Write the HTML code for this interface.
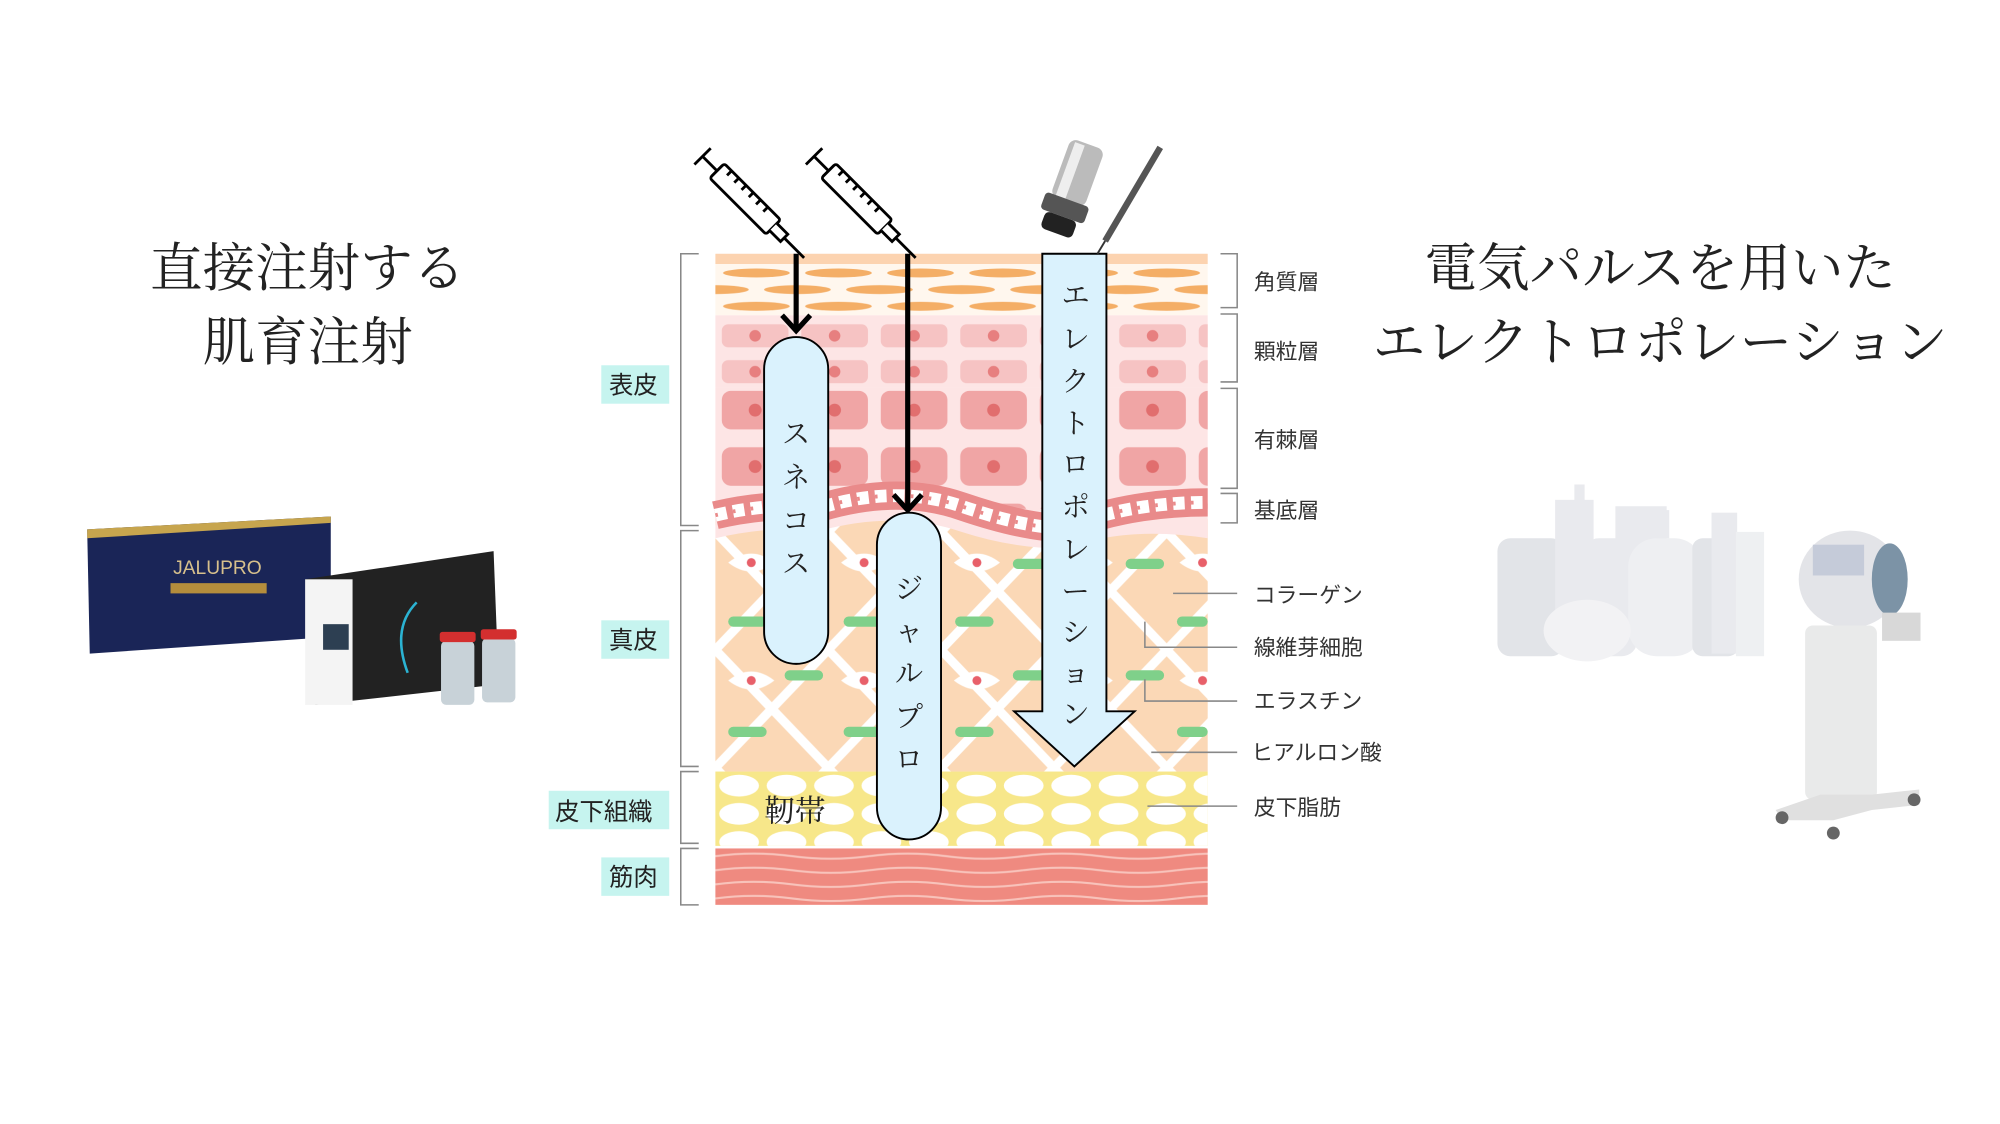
<!DOCTYPE html>
<html><head><meta charset="utf-8"><style>
html,body{margin:0;padding:0;background:#fff;width:2000px;height:1124px;overflow:hidden}
svg{display:block}
text{font-family:"Liberation Sans","Noto Sans CJK JP",sans-serif}
.ser{font-family:"Liberation Serif","Noto Serif CJK SC",serif}
</style></head><body>
<svg width="2000" height="1124" viewBox="0 0 1560 877" preserveAspectRatio="none" xmlns="http://www.w3.org/2000/svg">
<defs>
<pattern id="corn" x="558" y="206" width="64" height="26" patternUnits="userSpaceOnUse">
 <ellipse cx="32" cy="7" rx="26" ry="3.5" fill="#f4ae66"/>
 <ellipse cx="0" cy="20" rx="26" ry="3.5" fill="#f4ae66"/>
 <ellipse cx="64" cy="20" rx="26" ry="3.5" fill="#f4ae66"/>
</pattern>
<pattern id="gran" x="555" y="250" width="62" height="28" patternUnits="userSpaceOnUse">
 <rect x="8" y="3" width="52" height="18" rx="5" fill="#f6c3c3"/>
 <circle cx="34" cy="12" r="4.5" fill="#e77f7f"/>
</pattern>
<pattern id="spin" x="560" y="300" width="62" height="44" patternUnits="userSpaceOnUse">
 <rect x="3" y="5" width="52" height="30" rx="7" fill="#f0a5a5"/>
 <circle cx="29" cy="20" r="5" fill="#e16e6e"/>
</pattern>
<pattern id="derm" x="558" y="415" width="88" height="92" patternUnits="userSpaceOnUse">
 <rect width="88" height="92" fill="#fbd8b6"/>
 <path d="M0 0 L44 46 L88 0 M0 92 L44 46 L88 92" stroke="#fff" stroke-width="7" fill="none"/>
 <path d="M10 24 Q28 10 46 24 Q28 38 10 24Z" fill="#fff"/><circle cx="28" cy="24" r="3.5" fill="#e8606a"/>
</pattern>
<pattern id="fat" x="558" y="602" width="37" height="22" patternUnits="userSpaceOnUse">
 <ellipse cx="18.5" cy="11" rx="15.5" ry="8.5" fill="#fff"/>
</pattern>
<pattern id="musc" x="558" y="662" width="120" height="11" patternUnits="userSpaceOnUse">
 <rect width="120" height="11" fill="#ef8a80"/>
 <path d="M0 6 Q30 2 60 6 T120 6" stroke="#f8c3bb" stroke-width="1.6" fill="none"/>
</pattern>
</defs>

<g class="ser" font-size="41" fill="#222" text-anchor="middle">
<text class="ser" x="240" y="223">直接注射する</text>
<text class="ser" x="240" y="281">肌育注射</text>
<text class="ser" x="1295" y="223">電気パルスを用いた</text>
<text class="ser" x="1295" y="281">エレクトロポレーション</text>
</g>

<rect x="558" y="198" width="384" height="8" fill="#fcd3b0"/>
<rect x="558" y="206" width="384" height="40" fill="#fff7ee"/>
<rect x="558" y="206" width="384" height="40" fill="url(#corn)"/>
<rect x="558" y="246" width="384" height="56" fill="#fde5e5"/>
<rect x="558" y="246" width="384" height="56" fill="url(#gran)"/>
<rect x="558" y="302" width="384" height="100" fill="#fde5e5"/>
<rect x="558" y="302" width="384" height="95" fill="url(#spin)"/>
<rect x="558" y="405" width="384" height="197" fill="url(#derm)"/>
<g fill="#7fd08a">
<rect x="568" y="481" width="30" height="8" rx="4"/><rect x="658" y="481" width="30" height="8" rx="4"/>
<rect x="745" y="481" width="30" height="8" rx="4"/><rect x="790" y="436" width="30" height="8" rx="4"/>
<rect x="878" y="436" width="30" height="8" rx="4"/><rect x="918" y="481" width="24" height="8" rx="4"/>
<rect x="612" y="523" width="30" height="8" rx="4"/><rect x="700" y="523" width="30" height="8" rx="4"/>
<rect x="790" y="523" width="30" height="8" rx="4"/><rect x="878" y="523" width="30" height="8" rx="4"/>
<rect x="568" y="567" width="30" height="8" rx="4"/><rect x="658" y="567" width="30" height="8" rx="4"/>
<rect x="745" y="567" width="30" height="8" rx="4"/><rect x="918" y="567" width="24" height="8" rx="4"/>
</g>
<path d="M558 402 Q600 392 640 396 Q700 378 750 395 Q800 412 830 412 Q880 392 942 392 L942 420 Q880 410 830 428 Q790 428 750 415 Q700 398 640 414 Q600 410 558 420Z" fill="#fde5e5"/>
<path d="M558 402 Q600 392 640 396 Q700 378 750 395 Q800 412 830 412 Q880 392 942 392" stroke="#e98a8a" stroke-width="22" fill="none"/>
<path d="M558 402 Q600 392 640 396 Q700 378 750 395 Q800 412 830 412 Q880 392 942 392" stroke="#fff" stroke-width="10" stroke-dasharray="9 5" fill="none"/>
<path d="M558 402 Q600 392 640 396 Q700 378 750 395 Q800 412 830 412 Q880 392 942 392" stroke="#e98a8a" stroke-width="3" stroke-dasharray="2 12" fill="none"/>
<rect x="558" y="602" width="384" height="58" fill="#f7e78a"/>
<rect x="558" y="602" width="384" height="58" fill="url(#fat)"/>
<rect x="558" y="662" width="384" height="44" fill="url(#musc)"/>

<g stroke="#888" stroke-width="1.2" fill="none">
<path d="M545 198 H531 V410 H545"/><path d="M545 414 H531 V598 H545"/>
<path d="M545 602 H531 V658 H545"/><path d="M545 662 H531 V706 H545"/>
<path d="M952 198 H965 V240 H952"/><path d="M952 245 H965 V298 H952"/>
<path d="M952 303 H965 V381 H952"/><path d="M952 385 H965 V408 H952"/>
<path d="M915 463 H965"/><path d="M893 485 V505 H965"/><path d="M893 530 V547 H965"/>
<path d="M898 587 H965"/><path d="M895 629 H965"/>
</g>
<g font-size="19" fill="#222">
<rect x="469" y="285" width="53" height="30" fill="#c6f4ef"/><text x="475" y="307">表皮</text>
<rect x="469" y="484" width="53" height="30" fill="#c6f4ef"/><text x="475" y="506">真皮</text>
<rect x="428" y="617" width="94" height="30" fill="#c6f4ef"/><text x="433" y="640">皮下組織</text>
<rect x="469" y="669" width="53" height="30" fill="#c6f4ef"/><text x="475" y="691">筋肉</text>
</g>
<g font-size="17" fill="#333">
<text x="978" y="226">角質層</text><text x="978" y="280">顆粒層</text><text x="978" y="349">有棘層</text>
<text x="978" y="404">基底層</text><text x="978" y="470">コラーゲン</text><text x="978" y="511">線維芽細胞</text>
<text x="978" y="553">エラスチン</text><text x="976" y="593">ヒアルロン酸</text><text x="978" y="636">皮下脂肪</text>
</g>

<g stroke="#000" stroke-width="4" fill="none">
<path d="M621 198 V256"/><path d="M610 246 L621 258 L632 246"/>
<path d="M708 198 V396"/><path d="M697 386 L708 398 L719 386"/>
</g>
<rect x="596" y="263" width="50" height="255" rx="25" fill="#daf2fd" stroke="#000" stroke-width="1.5"/>
<rect x="684" y="400" width="50" height="255" rx="25" fill="#daf2fd" stroke="#000" stroke-width="1.5"/>
<path d="M813 198 H863 V555 H885 L838 598 L791 555 H813Z" fill="#daf2fd" stroke="#000" stroke-width="1.5"/>
<g class="ser" font-size="22" fill="#222" text-anchor="middle">
<text class="ser" x="621" y="346">ス</text><text class="ser" x="621" y="380">ネ</text><text class="ser" x="621" y="414">コ</text><text class="ser" x="621" y="447">ス</text>
<text class="ser" x="709" y="467">ジ</text><text class="ser" x="709" y="500">ャ</text><text class="ser" x="709" y="533">ル</text><text class="ser" x="709" y="567">プ</text><text class="ser" x="709" y="600">ロ</text>
<text class="ser" x="839" y="238">エ</text><text class="ser" x="839" y="272">レ</text><text class="ser" x="839" y="305">ク</text><text class="ser" x="839" y="338">ト</text><text class="ser" x="839" y="370">ロ</text><text class="ser" x="839" y="403">ポ</text><text class="ser" x="839" y="436">レ</text><text class="ser" x="839" y="469">ー</text><text class="ser" x="839" y="501">シ</text><text class="ser" x="839" y="533">ョ</text><text class="ser" x="839" y="565">ン</text>
<text class="ser" x="620" y="641" font-size="24">靭帯</text>
</g>

<g id="syr" transform="translate(548,122) rotate(45)" stroke="#000" stroke-width="2.2" fill="#fff">
<path d="M0 -9 V9 M0 0 H16 M16 -6 V6"/>
<rect x="16" y="-8" width="62" height="16" rx="2"/>
<path d="M24 -8 V-3 M32 -8 V-3 M40 -8 V-3 M48 -8 V-3 M56 -8 V-3 M64 -8 V-3"/>
<path d="M78 -4 H90 V4 H78 M90 0 H112"/>
</g>
<use href="#syr" transform="translate(87,0)"/>
<g transform="translate(835,150) rotate(20)">
<rect x="-14" y="-40" width="28" height="48" rx="6" fill="#bbb"/><rect x="-10" y="-38" width="8" height="44" fill="#eee"/>
<rect x="-18" y="6" width="36" height="14" rx="3" fill="#555"/><rect x="-13" y="20" width="26" height="14" rx="4" fill="#222"/>
</g>
<path d="M905 115 L862 188" stroke="#555" stroke-width="5" fill="none"/>
<path d="M862 188 L856 198" stroke="#333" stroke-width="1.5"/>

<path d="M68 413 L258 403 L258 497 L70 510Z" fill="#1a2557"/>
<path d="M68 413 L258 403 L258 408 L68 420Z" fill="#c7a54e"/>
<text x="135" y="448" font-size="15" fill="#d7c08c">JALUPRO</text>
<rect x="133" y="455" width="75" height="8" fill="#b48d3c"/>
<path d="M238 452 L385 430 L389 534 L246 550Z" fill="#222"/>
<rect x="238" y="452" width="37" height="98" fill="#f4f4f4"/>
<rect x="252" y="487" width="20" height="20" fill="#2d3f52"/>
<path d="M325 470 Q305 490 318 525" stroke="#2bb3d3" stroke-width="2" fill="none"/>
<rect x="344" y="500" width="26" height="50" rx="4" fill="#c8d2d8"/><rect x="343" y="493" width="28" height="8" rx="2" fill="#d32f2f"/>
<rect x="376" y="498" width="26" height="50" rx="4" fill="#c8d2d8"/><rect x="375" y="491" width="28" height="8" rx="2" fill="#d32f2f"/>

<g fill="#e9eaee">
<rect x="1168" y="420" width="52" height="92" rx="10" fill="#e2e4e8"/>
<rect x="1213" y="390" width="30" height="90"/><rect x="1228" y="378" width="8" height="14"/>
<rect x="1235" y="420" width="42" height="92" rx="12"/>
<rect x="1260" y="395" width="40" height="100"/>
<rect x="1270" y="420" width="58" height="92" rx="22" fill="#eeeff2"/><rect x="1292" y="398" width="10" height="22"/>
<rect x="1320" y="420" width="36" height="92" rx="8" fill="#e2e4e8"/>
<rect x="1335" y="400" width="20" height="110"/>
<rect x="1354" y="415" width="22" height="97" fill="#eef0f2"/>
<ellipse cx="1238" cy="492" rx="34" ry="24" fill="#f2f2f4"/>
</g>
<g>
<ellipse cx="1443" cy="452" rx="40" ry="38" fill="#e3e4e8"/>
<ellipse cx="1474" cy="452" rx="14" ry="28" fill="#7c93a6"/>
<rect x="1414" y="425" width="40" height="24" fill="#c5cbd9"/>
<rect x="1408" y="488" width="56" height="136" rx="6" fill="#e9eaea"/>
<rect x="1468" y="478" width="30" height="22" fill="#d8d8d8"/>
<path d="M1385 632 L1420 620 L1460 620 L1497 616 L1497 628 L1460 632 L1430 640 L1390 640Z" fill="#e0e0e0"/>
<circle cx="1390" cy="638" r="5" fill="#666"/><circle cx="1430" cy="650" r="5" fill="#666"/><circle cx="1493" cy="624" r="5" fill="#666"/>
</g>
</svg>
</body></html>
